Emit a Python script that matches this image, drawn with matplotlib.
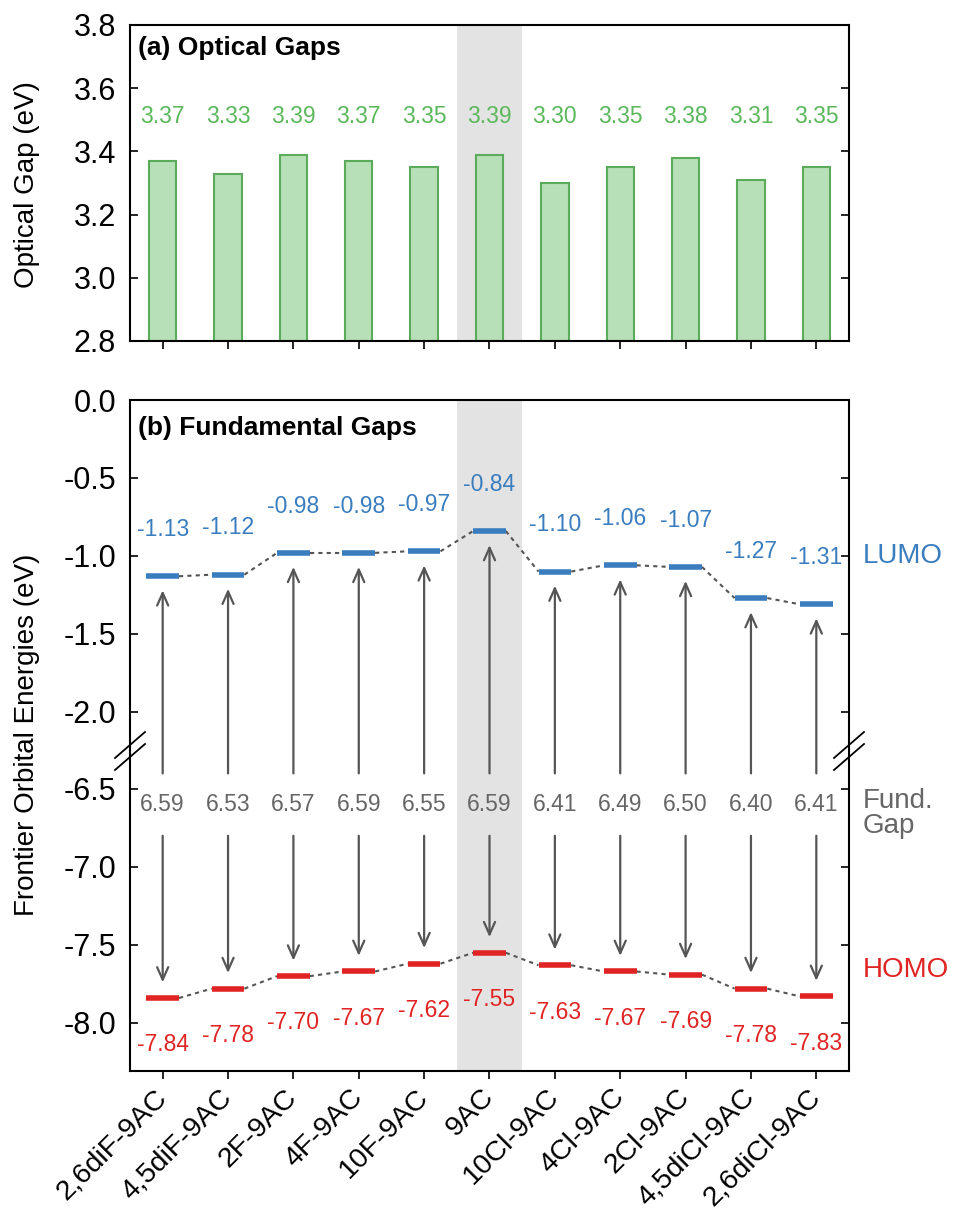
import numpy as np
import matplotlib
matplotlib.use("Agg")
import matplotlib.pyplot as plt
from matplotlib.patches import ConnectionPatch

plt.rcParams['font.family'] = ['Liberation Sans', 'DejaVu Sans']

# ── data ─────────────────────────────────────────────
molecules = ["2,6diF-9AC", "4,5diF-9AC", "2F-9AC", "4F-9AC", "10F-9AC", "9AC",
             "10Cl-9AC", "4Cl-9AC", "2Cl-9AC", "4,5diCl-9AC", "2,6diCl-9AC"]
optical_gap = [3.37, 3.33, 3.39, 3.37, 3.35, 3.39, 3.30, 3.35, 3.38, 3.31, 3.35]
lumo = [-1.13, -1.12, -0.98, -0.98, -0.97, -0.84, -1.10, -1.06, -1.07, -1.27, -1.31]
homo = [-7.84, -7.78, -7.70, -7.67, -7.62, -7.55, -7.63, -7.67, -7.69, -7.78, -7.83]
fund_gap = [6.59, 6.53, 6.57, 6.59, 6.55, 6.59, 6.41, 6.49, 6.50, 6.40, 6.41]
highlight = "9AC"

# ── colours ──────────────────────────────────────────
GREEN_TXT = "#5cb85c"
GREEN_FILL = "#b8e0b8"
GREEN_EDGE = "#5aac5a"
BLUE = "#3a7dbf"
RED = "#e02424"
GRAY_TXT = "#666666"
ARROW = "#555555"
SHADE = "#e3e3e3"

W, H = 954, 1215
fig = plt.figure(figsize=(W / 100, H / 100), dpi=100)

left = 130 / W
width = (849 - 130) / W
ax_a = fig.add_axes([left, 1 - 341 / H, width, 316 / H])
ax_t = fig.add_axes([left, 1 - 750 / H, width, 350 / H])
ax_b = fig.add_axes([left, 1 - 1071 / H, width, 321 / H])

x = np.arange(len(molecules))
hi = molecules.index(highlight)

for ax in (ax_a, ax_t, ax_b):
    ax.set_xlim(-0.5, len(molecules) - 0.5)
    ax.axvspan(hi - 0.5, hi + 0.5, color=SHADE, zorder=0, lw=0)
    for s in ax.spines.values():
        s.set_linewidth(1.5)
    ax.tick_params(axis='y', direction='in', length=6, width=1.2, labelsize=22,
                   right=True, pad=10)
    ax.tick_params(axis='x', direction='out', length=6, width=1.2, labelsize=20.5,
                   top=False)
    ax.set_xticks(x)

# ── (a) optical gaps ─────────────────────────────────
ax_a.bar(x, np.array(optical_gap) - 2.8, bottom=2.8, width=0.42,
         color=GREEN_FILL, edgecolor=GREEN_EDGE, linewidth=1.5, zorder=2)
for i, v in enumerate(optical_gap):
    ax_a.text(i, 3.51, f"{v:.2f}", color=GREEN_TXT, fontsize=16.5,
              ha='center', va='center')
ax_a.set_ylim(2.8, 3.8)
ax_a.set_yticks([2.8, 3.0, 3.2, 3.4, 3.6, 3.8])
ax_a.set_yticklabels([f"{t:.1f}" for t in [2.8, 3.0, 3.2, 3.4, 3.6, 3.8]])
ax_a.set_xticklabels([])
ax_a.text(0.011, 0.927, "(a) Optical Gaps", transform=ax_a.transAxes,
          fontsize=19, fontweight='bold', va='center', ha='left')

# ── (b) fundamental gaps, broken y axis ──────────────
ax_t.set_ylim(-2.244, 0.0)
ax_b.set_ylim(-8.308, -6.25)
ax_t.set_yticks([0.0, -0.5, -1.0, -1.5, -2.0])
ax_t.set_yticklabels(["0.0", "-0.5", "-1.0", "-1.5", "-2.0"])
ax_b.set_yticks([-6.5, -7.0, -7.5, -8.0])
ax_b.set_yticklabels(["-6.5", "-7.0", "-7.5", "-8.0"])
ax_t.spines['bottom'].set_visible(False)
ax_b.spines['top'].set_visible(False)
ax_t.tick_params(axis='x', bottom=False, labelbottom=False)
ax_b.set_xticklabels(molecules, rotation=45, ha='right', va='center',
                     rotation_mode='anchor')
ax_b.tick_params(axis='x', pad=10)

half = 0.25
ax_t.hlines(lumo, x - half, x + half, color=BLUE, lw=4, zorder=3)
ax_b.hlines(homo, x - half, x + half, color=RED, lw=4, zorder=3)
for i in range(len(molecules) - 1):
    ax_t.plot([i + half, i + 1 - half], [lumo[i], lumo[i + 1]], color=ARROW,
              lw=1.5, ls=(0, (2, 2)), zorder=2)
    ax_b.plot([i + half, i + 1 - half], [homo[i], homo[i + 1]], color=ARROW,
              lw=1.5, ls=(0, (2, 2)), zorder=2)

for i in range(len(molecules)):
    ax_t.text(i, lumo[i] + 0.30, f"{lumo[i]:.2f}", color=BLUE, fontsize=16.5,
              ha='center', va='center')
    ax_b.text(i, homo[i] - 0.30, f"{homo[i]:.2f}", color=RED, fontsize=16.5,
              ha='center', va='center')
    ax_b.text(i, -6.60, f"{fund_gap[i]:.2f}", color=GRAY_TXT, fontsize=16.5,
              ha='center', va='center')
    # upward arrow to LUMO, crossing the axis break
    con = ConnectionPatch(xyA=(i, -6.40), coordsA=ax_b.transData,
                          xyB=(i, lumo[i] - 0.09), coordsB=ax_t.transData,
                          arrowstyle="->,head_length=0.45,head_width=0.2",
                          mutation_scale=20, color=ARROW, lw=1.6,
                          shrinkA=0, shrinkB=0, zorder=4)
    fig.add_artist(con)
    # downward arrow to HOMO
    ax_b.annotate("", xy=(i, homo[i] + 0.10), xytext=(i, -6.80),
                  arrowprops=dict(arrowstyle="->,head_length=0.45,head_width=0.2",
                                  mutation_scale=20, color=ARROW, lw=1.6,
                                  shrinkA=0, shrinkB=0))

ax_t.text(0.011, 0.92, "(b) Fundamental Gaps", transform=ax_t.transAxes,
          fontsize=19, fontweight='bold', va='center', ha='left')

ax_t.text(1.019, -1.0, "LUMO", color=BLUE, fontsize=20, va='center', ha='left',
          transform=ax_t.get_yaxis_transform(), clip_on=False)
ax_b.text(1.019, -6.66, "Fund.\nGap", color=GRAY_TXT, fontsize=20, va='center',
          ha='left', linespacing=0.95, transform=ax_b.get_yaxis_transform(),
          clip_on=False)
ax_b.text(1.019, -7.66, "HOMO", color=RED, fontsize=20, va='center', ha='left',
          transform=ax_b.get_yaxis_transform(), clip_on=False)

# break marks on both spines
yb = 1 - 751 / H
for xs in (left, left + width):
    for dy in (6 / H, -6 / H):
        fig.add_artist(plt.Line2D([xs - 15 / W, xs + 15 / W],
                                  [yb + dy - 13 / H, yb + dy + 13 / H],
                                  color='black', lw=1.3))

# axis labels
fig.text(0.028, 1 - 185 / H, "Optical Gap (eV)", rotation=90, fontsize=20,
         ha='center', va='center')
fig.text(0.028, 1 - 735 / H, "Frontier Orbital Energies (eV)", rotation=90,
         fontsize=20, ha='center', va='center')

fig.savefig("out.png", dpi=100)
